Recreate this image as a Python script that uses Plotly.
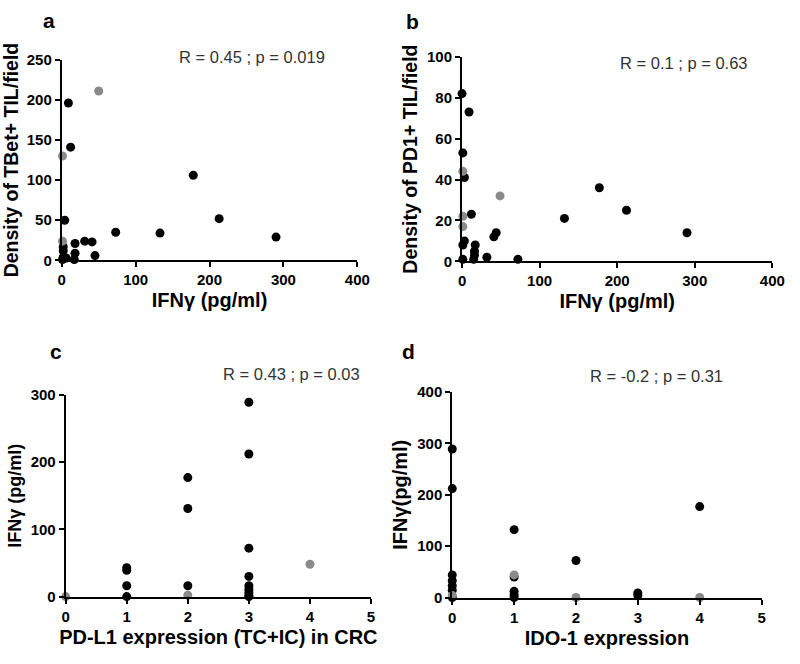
import plotly.graph_objects as go

# Panel a: IFNγ vs TBet+ TIL density
a_black_x = [9, 12, 178, 213, 4, 73, 133, 290, 31, 41, 18, 2, 2, 18, 45, 2, 6, 17, 1]
a_black_y = [196, 141, 106, 52, 50, 35, 34, 29, 24, 23, 21, 17, 12, 9, 6, 4, 3, 1, 1]
a_gray_x = [50, 1, 1]
a_gray_y = [211, 130, 24]

# Panel b: IFNγ vs PD1+ TIL density
b_black_x = [0, 9, 1, 3, 177, 12, 132, 212, 290, 44, 41, 3, 1, 17, 16, 16, 32, 72, 1, 15]
b_black_y = [82, 73, 53, 41, 36, 23, 21, 25, 14, 14, 12, 10, 8, 8, 5, 3, 2, 1, 1, 1]
b_gray_x = [1, 49, 1, 1]
b_gray_y = [44, 32, 22, 17]

# Panel c: PD-L1 expression vs IFNγ
c_black_x = [1, 1, 1, 1, 2, 2, 2, 3, 3, 3, 3, 3, 3, 3, 3, 3]
c_black_y = [43, 39, 16, 0, 177, 131, 16, 289, 212, 72, 30, 16, 11, 6, 2, 0]
c_gray_x = [0, 2, 4]
c_gray_y = [0, 2, 48]

# Panel d: IDO-1 expression vs IFNγ
d_black_x = [0, 0, 0, 0, 0, 0, 0, 1, 1, 1, 1, 1, 2, 3, 3, 4]
d_black_y = [289, 212, 44, 33, 23, 14, 0, 132, 40, 12, 5, 0, 72, 9, 4, 177]
d_gray_x = [0, 1, 2, 4]
d_gray_y = [4, 44, 0, 0]

stats = ["R = 0.45 ; p = 0.019", "R = 0.1 ; p = 0.63", "R = 0.43 ; p = 0.03", "R = -0.2 ; p = 0.31"]
panel_labels = ["a", "b", "c", "d"]

W, H = 800, 664
BLACK = "#000000"
GRAY = "#8a8a8a"
FONT = "Liberation Sans, Arial, sans-serif"

fig = go.Figure()

panels = [
    (a_black_x, a_black_y, a_gray_x, a_gray_y, "x", "y"),
    (b_black_x, b_black_y, b_gray_x, b_gray_y, "x2", "y2"),
    (c_black_x, c_black_y, c_gray_x, c_gray_y, "x3", "y3"),
    (d_black_x, d_black_y, d_gray_x, d_gray_y, "x4", "y4"),
]
for bx, by, gx, gy, xa, ya in panels:
    fig.add_trace(go.Scatter(x=bx, y=by, mode="markers", xaxis=xa, yaxis=ya,
                             marker=dict(color=BLACK, size=9, line=dict(width=0)),
                             cliponaxis=False, showlegend=False))
    fig.add_trace(go.Scatter(x=gx, y=gy, mode="markers", xaxis=xa, yaxis=ya,
                             marker=dict(color=GRAY, size=9, line=dict(width=0)),
                             cliponaxis=False, showlegend=False))

def px_x(p):
    return p / W

def px_y(p):
    return 1 - p / H

tickfont = dict(family=FONT, size=15, color="black", weight="bold")

def axis(domain, rng, dtick, title, standoff, size):
    return dict(domain=domain, range=rng, dtick=dtick, showline=True, linewidth=2,
                linecolor="black", ticks="outside", ticklen=5, tickwidth=2,
                tickcolor="black", showgrid=False, zeroline=False, tickfont=tickfont,
                title=dict(text=title, standoff=standoff,
                           font=dict(family=FONT, size=size, color="black", weight="bold")))

# pixel boxes (left, right, top, bottom)
boxes = [(59, 361, 52, 258), (468, 785, 49, 259), (63, 375, 396, 603), (458, 774, 393, 604)]
xr = [[0, 400], [0, 400], [0, 5], [0, 5]]
xd = [100, 100, 1, 1]
yr = [[0, 250], [0, 100], [0, 300], [0, 400]]
yd = [50, 20, 100, 100]
xt = ["IFNγ (pg/ml)", "IFNγ (pg/ml)", "PD-L1 expression (TC+IC) in CRC", "IDO-1 expression"]
yt = ["Density of TBet+ TIL/field", "Density of PD1+ TIL/field", "IFNγ (pg/ml)", "IFNγ(pg/ml)"]
ysz = [19.5, 19.5, 18, 20]

layout = dict(width=W, height=H, margin=dict(l=0, r=0, t=0, b=0),
              plot_bgcolor="white", paper_bgcolor="white", showlegend=False)
for i, (l, r, t, b) in enumerate(boxes):
    sfx = "" if i == 0 else str(i + 1)
    xa = axis([px_x(l), px_x(r)], xr[i], xd[i], xt[i], 6, 20)
    xa["anchor"] = "y" + sfx
    ya = axis([px_y(b), px_y(t)], yr[i], yd[i], yt[i], 4, ysz[i])
    ya["anchor"] = "x" + sfx
    layout["xaxis" + sfx] = xa
    layout["yaxis" + sfx] = ya
fig.update_layout(**layout)

# panel labels and stats text (pixel positions)
label_pos = [(46, 12), (417, 13), (53, 351), (413, 351)]
stat_pos = [(253, 49), (695, 55), (294, 375), (667, 377)]
for i in range(4):
    lx, ly = label_pos[i]
    fig.add_annotation(x=px_x(lx), y=px_y(ly), xref="paper", yref="paper",
                       text=panel_labels[i], showarrow=False,
                       font=dict(family=FONT, size=21, color="black", weight="bold"),
                       xanchor="center", yanchor="middle")
    sx, sy = stat_pos[i]
    fig.add_annotation(x=px_x(sx), y=px_y(sy), xref="paper", yref="paper",
                       text=stats[i], showarrow=False,
                       font=dict(family=FONT, size=16.5, color="#333333"),
                       xanchor="center", yanchor="middle")

fig.write_html("out.html", config={"displayModeBar": False},
               post_script="document.body.style.margin='0px';document.body.style.overflow='hidden';")
